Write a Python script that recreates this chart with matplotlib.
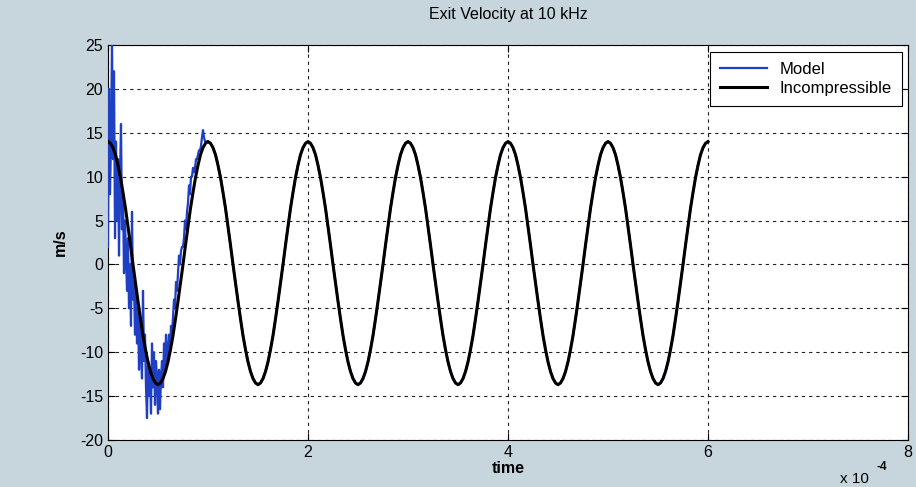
import matplotlib
matplotlib.use("Agg")
import matplotlib.pyplot as plt

plt.rcParams['font.family'] = ['Liberation Sans', 'DejaVu Sans']

title = "Exit Velocity at 10 kHz"
xlabel = "time"
ylabel = "m/s"
legend_labels = ["Model", "Incompressible"]
xticks = [0, 2, 4, 6, 8]
yticks = [-20, -15, -10, -5, 0, 5, 10, 15, 20, 25]

# Incompressible velocity, sampled every 0.025e-4 s (time axis in units of 1e-4 s)
incomp_t = [i * 0.025 for i in range(241)]
incomp_v = [
    14.0, 13.8, 13.3, 12.5, 11.3, 9.9, 8.2, 6.4, 4.3, 2.2, 0.0, -2.1, -4.2, -6.2, -8.1, -9.7, -11.1, -12.2, -13.0, -13.5,
    -13.7, -13.5, -13.0, -12.2, -11.1, -9.7, -8.1, -6.2, -4.2, -2.1, 0.0, 2.2, 4.3, 6.4, 8.2, 9.9, 11.3, 12.5, 13.3, 13.8,
    14.0, 13.8, 13.3, 12.5, 11.3, 9.9, 8.2, 6.4, 4.3, 2.2, 0.0, -2.1, -4.2, -6.2, -8.1, -9.7, -11.1, -12.2, -13.0, -13.5,
    -13.7, -13.5, -13.0, -12.2, -11.1, -9.7, -8.1, -6.2, -4.2, -2.1, 0.0, 2.2, 4.3, 6.4, 8.2, 9.9, 11.3, 12.5, 13.3, 13.8,
    14.0, 13.8, 13.3, 12.5, 11.3, 9.9, 8.2, 6.4, 4.3, 2.2, 0.0, -2.1, -4.2, -6.2, -8.1, -9.7, -11.1, -12.2, -13.0, -13.5,
    -13.7, -13.5, -13.0, -12.2, -11.1, -9.7, -8.1, -6.2, -4.2, -2.1, 0.0, 2.2, 4.3, 6.4, 8.2, 9.9, 11.3, 12.5, 13.3, 13.8,
    14.0, 13.8, 13.3, 12.5, 11.3, 9.9, 8.2, 6.4, 4.3, 2.2, 0.0, -2.1, -4.2, -6.2, -8.1, -9.7, -11.1, -12.2, -13.0, -13.5,
    -13.7, -13.5, -13.0, -12.2, -11.1, -9.7, -8.1, -6.2, -4.2, -2.1, 0.0, 2.2, 4.3, 6.4, 8.2, 9.9, 11.3, 12.5, 13.3, 13.8,
    14.0, 13.8, 13.3, 12.5, 11.3, 9.9, 8.2, 6.4, 4.3, 2.2, 0.0, -2.1, -4.2, -6.2, -8.1, -9.7, -11.1, -12.2, -13.0, -13.5,
    -13.7, -13.5, -13.0, -12.2, -11.1, -9.7, -8.1, -6.2, -4.2, -2.1, 0.0, 2.2, 4.3, 6.4, 8.2, 9.9, 11.3, 12.5, 13.3, 13.8,
    14.0, 13.8, 13.3, 12.5, 11.3, 9.9, 8.2, 6.4, 4.3, 2.2, 0.0, -2.1, -4.2, -6.2, -8.1, -9.7, -11.1, -12.2, -13.0, -13.5,
    -13.7, -13.5, -13.0, -12.2, -11.1, -9.7, -8.1, -6.2, -4.2, -2.1, 0.0, 2.2, 4.3, 6.4, 8.2, 9.9, 11.3, 12.5, 13.3, 13.8,
    14.0,
]

# Model velocity: noisy start-up, read every 0.01e-4 s up to 0.99e-4 s
model_early_t = [i * 0.01 for i in range(100)]
model_early_v = [
    2, 20, 8, 14, 25.5, 12, 22, 3, 14, 5,
    12, 1, 10, 16, 4, 8, -1, 5, 1, -3,
    3, -5, 0, -7, 6, -4, -2, -8, -3, -9,
    -5, -12, -6, -10, -13, -3, -11, -8, -14, -17.5,
    -11, -15, -12, -17, -9, -14, -10, -16, -11, -13,
    -17, -12, -16.5, -13, -11, -14, -9, -12, -8, -11,
    -10, -8, -10, -7, -8, -6, -4, -5, -2, -3,
    -1, 1, 0, 1.5, 2, 2, 3, 5, 4, 6,
    7, 9, 8, 10, 10, 11, 10.5, 11, 12, 12,
    12.5, 13, 13, 13.5, 14.5, 15.3, 14.5, 14, 14, 14,
]
model_t = model_early_t + incomp_t[40:]
model_v = model_early_v + incomp_v[40:]

bg = '#c6d6dc'
fig = plt.figure(figsize=(9.16, 4.87), dpi=100, facecolor=bg)
ax = fig.add_axes([0.1179, 0.0965, 0.8734, 0.8111])
ax.set_facecolor('white')

ax.plot(model_t, model_v, color='#1f3fc4', lw=1.6, label=legend_labels[0], zorder=3)
ax.plot(incomp_t, incomp_v, color='black', lw=2.2, label=legend_labels[1], zorder=4)

ax.set_xlim(0, 8)
ax.set_ylim(-20, 25)
ax.set_xticks(xticks)
ax.set_yticks(yticks)
ax.set_xticklabels([str(v) for v in xticks])
ax.set_yticklabels([str(v) for v in yticks])
ax.tick_params(direction='in', length=5, width=0.8, labelsize=11.5,
               top=True, right=True, colors='black')
ax.grid(True, color='#222222', linestyle=(0, (3, 3.5)), linewidth=0.8)
for s in ax.spines.values():
    s.set_color('black')
    s.set_linewidth(0.8)

ax.set_title(title, fontsize=11.5, pad=19)
ax.set_xlabel(xlabel, fontsize=11.5, fontweight='bold', labelpad=1)
ax.set_ylabel(ylabel, fontsize=11.5, fontweight='bold', labelpad=9)

fig.text(0.917, 0.030, "x 10", fontsize=11, ha='left', va='top')
fig.text(0.957, 0.054, "-4", fontsize=8.5, ha='left', va='top', fontweight='bold')

leg = ax.legend(loc='upper right', bbox_to_anchor=(0.9925, 0.982), borderaxespad=0,
                fontsize=12, frameon=True, fancybox=False, edgecolor='black',
                framealpha=1, handlelength=2.8, borderpad=0.6, labelspacing=0.25,
                handletextpad=0.8)
leg.get_frame().set_linewidth(0.8)

fig.savefig("out.png", dpi=100, facecolor=bg)
